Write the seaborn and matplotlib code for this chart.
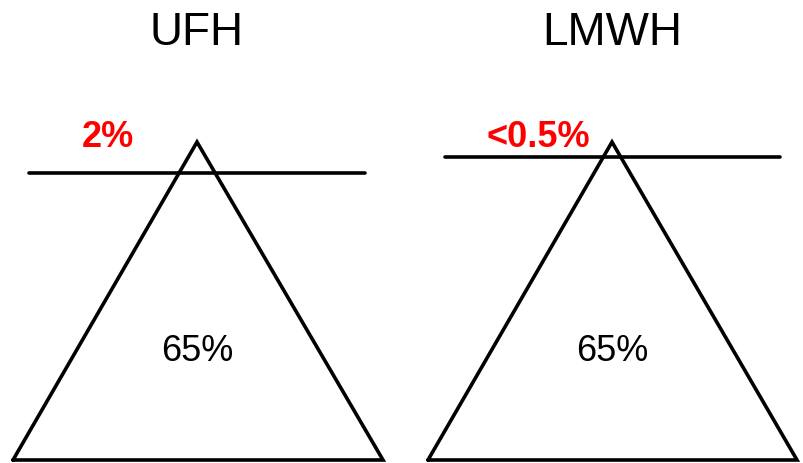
import pandas as pd
import seaborn as sns
import matplotlib.pyplot as plt

sns.set_style('white')
plt.rcParams['font.family'] = ['Liberation Sans', 'DejaVu Sans']
plt.rcParams['text.color'] = 'black'

# Panel content
titles = ['UFH', 'LMWH']
top_labels = ['2%', '<0.5%']
inner_labels = ['65%', '65%']

# Shape vertices in pixel space (x, y with y downwards)
tri_x = [[13, 197, 383, 13], [428, 612, 797, 428]]
tri_y = [[461, 143, 461, 461], [461, 143, 461, 461]]
cut_x = [[29, 365], [445, 780]]
cut_y = [[174, 174], [158, 158]]

title_pos = [(197, 33), (612, 33)]
top_pos = [(108, 138), (538, 138)]
inner_pos = [(197, 352), (612, 352)]

# Build one long table of line pieces
rows = []
for i in range(2):
    for x, y in zip(tri_x[i], tri_y[i]):
        rows.append({'x': x, 'y': y, 'piece': f'tri{i}'})
    for x, y in zip(cut_x[i], cut_y[i]):
        rows.append({'x': x, 'y': y, 'piece': f'cut{i}'})
df = pd.DataFrame(rows)

fig = plt.figure(figsize=(8.04, 4.64), dpi=100)
ax = fig.add_axes([0, 0, 1, 1])
sns.lineplot(data=df, x='x', y='y', units='piece', estimator=None, sort=False,
             color='black', linewidth=2.6, ax=ax, legend=False)
for ln in ax.lines:
    ln.set_solid_joinstyle('miter')

for i in range(2):
    ax.text(*title_pos[i], titles[i], fontsize=33, color='black',
            ha='center', va='center')
    ax.text(*top_pos[i], top_labels[i], fontsize=26, fontweight='bold',
            color='red', ha='center', va='center')
    ax.text(*inner_pos[i], inner_labels[i], fontsize=26, color='black',
            ha='center', va='center')

ax.set_xlim(0, 804)
ax.set_ylim(464, 0)
ax.axis('off')

plt.savefig('out.png', dpi=100)
